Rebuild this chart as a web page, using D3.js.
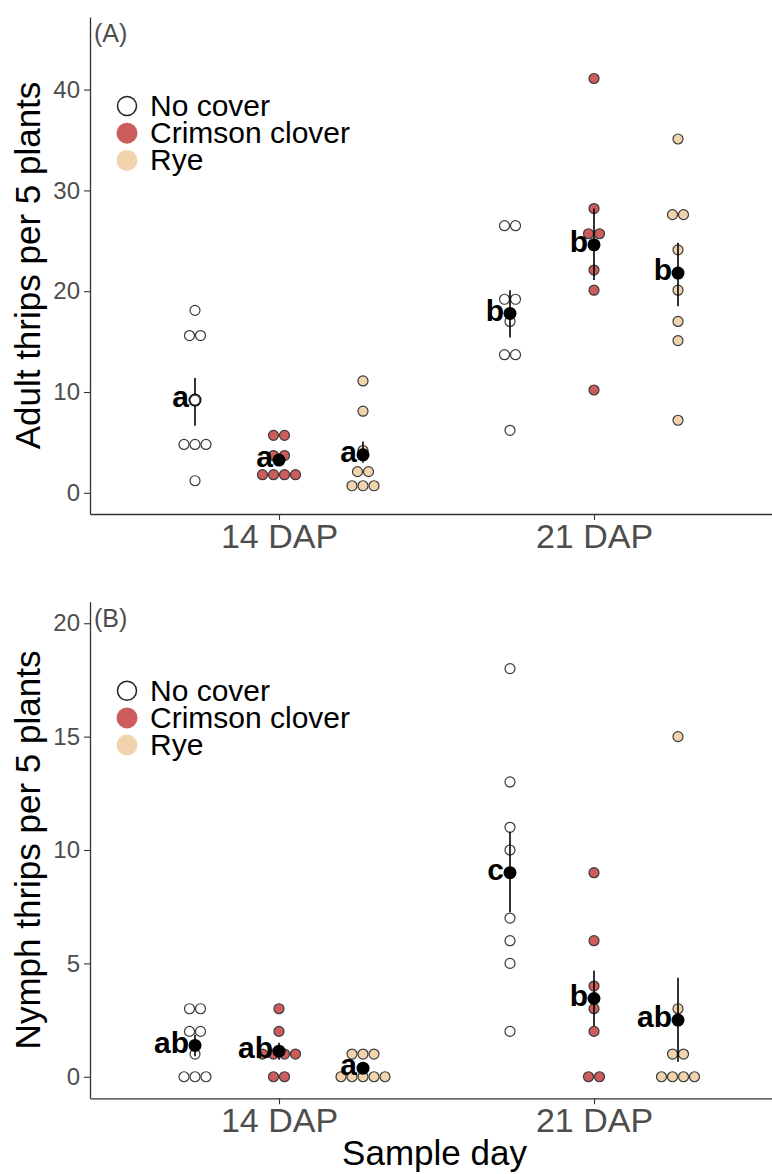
<!DOCTYPE html>
<html>
<head>
<meta charset="utf-8">
<script src="https://cdn.jsdelivr.net/npm/d3@7"></script>
<style>
  body { margin: 0; background: #fff; }
  svg { font-family: "Liberation Sans", Arial, sans-serif; }
</style>
</head>
<body>
<svg id="chart" width="772" height="1174"></svg>
<script>
// categories
const days = ["14 DAP", "21 DAP"];
const treatments = ["No cover", "Crimson clover", "Rye"];

// adult thrips, group order: 14 DAP (No cover, Crimson, Rye), 21 DAP (No cover, Crimson, Rye)
const adultValues = [
  [18.1, 15.6, 15.6, 9.2, 4.8, 4.8, 4.8, 1.2],
  [5.7, 5.7, 3.7, 3.7, 1.8, 1.8, 1.8, 1.8],
  [11.1, 8.1, 4.2, 2.1, 2.1, 0.7, 0.7, 0.7],
  [26.5, 26.5, 19.2, 19.2, 17.0, 13.7, 13.7, 6.2],
  [41.1, 28.2, 25.7, 25.7, 22.1, 20.1, 10.2],
  [35.1, 27.6, 27.6, 24.1, 20.1, 17.0, 15.1, 7.2]
];
const adultMeans = [9.2, 3.25, 3.77, 17.8, 24.6, 21.8];
const adultLow = [6.65, 2.7, 2.98, 15.4, 21.1, 18.5];
const adultHigh = [11.4, 3.8, 5.09, 20.1, 28.2, 24.8];
const adultLetters = ["a", "a", "a", "b", "b", "b"];

// nymph thrips, same group order
const nymphValues = [
  [3, 3, 2, 2, 1, 0, 0, 0],
  [3, 2, 1, 1, 1, 1, 0, 0],
  [1, 1, 1, 0, 0, 0, 0, 0],
  [18, 13, 11, 10, 7, 6, 5, 2],
  [9, 6, 4, 3, 2, 0, 0],
  [15, 3, 1, 1, 0, 0, 0, 0]
];
const nymphMeans = [1.38, 1.13, 0.38, 9.0, 3.45, 2.5];
const nymphLow = [0.9, 0.75, 0.2, 7.25, 2.24, 0.66];
const nymphHigh = [1.85, 1.5, 0.56, 10.8, 4.68, 4.37];
const nymphLetters = ["ab", "ab", "a", "c", "b", "ab"];

const adultTicks = [0, 10, 20, 30, 40];
const nymphTicks = [0, 5, 10, 15, 20];

const fillColor = {"No cover": "#ffffff", "Crimson clover": "#cd5c5c", "Rye": "#f1d3ae"};
const textGray = "#4d4d4d";
const axisColor = "#333333";

const svg = d3.select("#chart");
const left = 90, right = 783;

const x = d3.scalePoint().domain(days).range([left, right]).padding(0.6);
const dodge = d3.scaleBand().domain(treatments)
    .range([-0.4 * x.step(), 0.4 * x.step()]);
const groups = days.flatMap(d => treatments.map(t => ({day: d, trt: t})));
const cx = g => x(g.day) + dodge(g.trt) + dodge.bandwidth() / 2;

function drawPanel(cfg) {
  const y = d3.scaleLinear().domain(cfg.domain).range([cfg.bottom, cfg.top]);
  const g = svg.append("g").attr("class", "panel");

  // axes
  const ya = g.append("g").attr("transform", `translate(${left},0)`)
      .call(d3.axisLeft(y).tickValues(cfg.ticks).tickSize(6).tickSizeOuter(0).tickPadding(4));
  const xa = g.append("g").attr("transform", `translate(0,${cfg.bottom})`)
      .call(d3.axisBottom(x).tickSize(6).tickSizeOuter(0).tickPadding(4));
  [ya, xa].forEach(a => {
    a.select(".domain").attr("stroke", axisColor).attr("stroke-width", 1.3);
    a.selectAll(".tick line").attr("stroke", axisColor).attr("stroke-width", 1.1);
    a.selectAll(".tick text").attr("fill", textGray).attr("font-family", null);
  });
  ya.selectAll(".tick text").attr("font-size", 24);
  xa.selectAll(".tick text").attr("font-size", 34);

  // y title
  g.append("text")
      .attr("transform", `translate(40,${(cfg.top + cfg.bottom) / 2}) rotate(-90)`)
      .attr("text-anchor", "middle")
      .attr("font-size", 35)
      .attr("fill", "#000")
      .text(cfg.title);

  // panel tag
  g.append("text")
      .attr("x", 94).attr("y", cfg.top + 25)
      .attr("font-size", 25).attr("fill", textGray)
      .text(cfg.tag);

  // legend
  const leg = g.append("g").selectAll("g").data(treatments).join("g")
      .attr("transform", (d, i) => `translate(127,${cfg.top + 89 + i * 27.2})`);
  leg.append("circle")
      .attr("r", d => d === "No cover" ? 9.5 : 10.5)
      .attr("fill", d => fillColor[d])
      .attr("stroke", d => d === "No cover" ? "#222" : "none")
      .attr("stroke-width", 1.5);
  leg.append("text")
      .attr("x", 23).attr("y", 10)
      .attr("font-size", 30).attr("fill", "#000")
      .text(d => d);

  // dots, stacked sideways where values coincide
  const dots = [];
  cfg.values.forEach((vals, gi) => {
    d3.group(vals, v => v).forEach((arr, v) => {
      arr.forEach((_, k) => dots.push({gi, v, off: (k - (arr.length - 1) / 2) * 11}));
    });
  });
  const drawDots = (layer, sel) => layer.selectAll("circle").data(sel).join("circle")
      .attr("cx", d => cx(groups[d.gi]) + d.off)
      .attr("cy", d => y(d.v))
      .attr("r", 5)
      .attr("fill", d => fillColor[groups[d.gi].trt])
      .attr("stroke", "#3a3a3a")
      .attr("stroke-width", 1.2);

  drawDots(g.append("g"), dots.filter(d => !cfg.dotsOnTop.includes(d.gi)));

  // error bars and means
  g.append("g").selectAll("line").data(groups).join("line")
      .attr("x1", cx).attr("x2", cx)
      .attr("y1", (d, i) => y(cfg.low[i]))
      .attr("y2", (d, i) => y(cfg.high[i]))
      .attr("stroke", "#000").attr("stroke-width", 1.6);
  g.append("g").selectAll("circle").data(groups).join("circle")
      .attr("cx", cx)
      .attr("cy", (d, i) => y(cfg.means[i]))
      .attr("r", 6.5)
      .attr("fill", "#000");

  drawDots(g.append("g"), dots.filter(d => cfg.dotsOnTop.includes(d.gi)));

  // letters
  g.append("g").selectAll("text").data(groups).join("text")
      .attr("x", d => cx(d) - 6)
      .attr("y", (d, i) => y(cfg.means[i]))
      .attr("dy", "0.24em")
      .attr("text-anchor", "end")
      .attr("font-size", 30)
      .attr("font-weight", "bold")
      .attr("fill", "#000")
      .text((d, i) => cfg.letters[i]);
}

drawPanel({
  top: 17, bottom: 514, domain: [-2.1, 47.2], ticks: adultTicks,
  title: "Adult thrips per 5 plants", tag: "(A)",
  values: adultValues, means: adultMeans, low: adultLow, high: adultHigh,
  letters: adultLetters, dotsOnTop: [0]
});

drawPanel({
  top: 601.7, bottom: 1098.3, domain: [-0.95, 20.95], ticks: nymphTicks,
  title: "Nymph thrips per 5 plants", tag: "(B)",
  values: nymphValues, means: nymphMeans, low: nymphLow, high: nymphHigh,
  letters: nymphLetters, dotsOnTop: []
});

svg.append("text")
    .attr("x", (left + right) / 2 - 2)
    .attr("y", 1165)
    .attr("text-anchor", "middle")
    .attr("font-size", 35)
    .attr("fill", "#000")
    .text("Sample day");
</script>
</body>
</html>
